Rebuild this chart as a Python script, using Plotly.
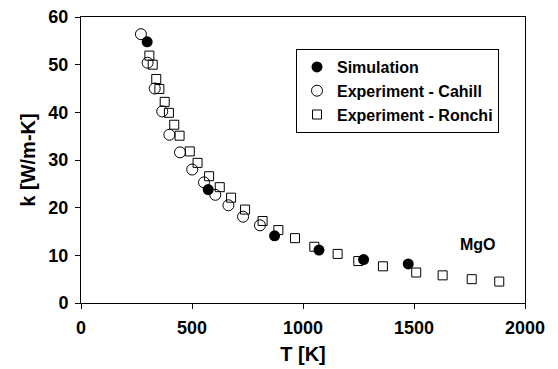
import plotly.graph_objects as go

# Simulation (filled circles)
sim_T = [298, 573, 872, 1072, 1273, 1474]
sim_k = [54.8, 23.8, 14.1, 11.1, 9.1, 8.2]

# Experiment - Cahill (open circles)
cahill_T = [270, 300, 332, 366, 398, 446, 501, 554, 605, 664, 730, 806]
cahill_k = [56.4, 50.4, 45.0, 40.2, 35.3, 31.6, 28.0, 25.3, 22.7, 20.5, 18.1, 16.3]

# Experiment - Ronchi (open squares)
ronchi_T = [308, 323, 339, 353, 377, 396, 420, 444, 490, 525, 577, 625, 676, 739,
            818, 889, 964, 1051, 1156, 1249, 1360, 1510, 1629, 1760, 1884]
ronchi_k = [51.9, 50.0, 47.0, 44.9, 42.2, 39.9, 37.4, 35.1, 31.8, 29.4, 26.6, 24.3, 22.1, 19.6,
            17.2, 15.3, 13.6, 11.8, 10.3, 8.8, 7.7, 6.4, 5.8, 5.0, 4.5]

x_ticks = [0, 500, 1000, 1500, 2000]
y_ticks = [0, 10, 20, 30, 40, 50, 60]

FONT = "Liberation Sans, Arial, Helvetica, sans-serif"

fig = go.Figure()
fig.add_trace(go.Scatter(
    x=ronchi_T, y=ronchi_k, mode="markers", name="Experiment - Ronchi",
    legendgroup="c", legendrank=3,
    marker=dict(symbol="square-open", size=9, color="black", line=dict(width=1))))
fig.add_trace(go.Scatter(
    x=cahill_T, y=cahill_k, mode="markers", name="Experiment - Cahill",
    legendgroup="b", legendrank=2,
    marker=dict(symbol="circle-open", size=11, color="black", line=dict(width=1))))
fig.add_trace(go.Scatter(
    x=sim_T, y=sim_k, mode="markers", name="Simulation",
    legendgroup="a", legendrank=1,
    marker=dict(symbol="circle", size=11, color="black", line=dict(width=0))))

fig.add_annotation(x=1787, y=12.3, text="MgO", showarrow=False,
                   font=dict(size=16, family=FONT, color="black", weight="bold"))

fig.update_layout(
    width=558, height=369,
    margin=dict(l=81, r=33, t=17, b=66, autoexpand=False),
    paper_bgcolor="white", plot_bgcolor="white",
    font=dict(family=FONT, size=18, color="black", weight="bold"),
    showlegend=True,
    legend=dict(x=(499 - 81) / 444, y=(303 - 49) / 286, xanchor="right", yanchor="top",
                bgcolor="white", bordercolor="black", borderwidth=1,
                tracegroupgap=9, font=dict(size=16, family=FONT, weight="bold"),
                traceorder="normal"),
    xaxis=dict(range=[0, 2000], tickvals=x_ticks, showgrid=False, zeroline=False,
               showline=True, linecolor="black", linewidth=1, mirror=True,
               ticks="outside", ticklen=5, tickcolor="black", ticklabelstandoff=3,
               automargin=False,
               title=dict(text="T [K]", font=dict(size=20), standoff=10)),
    yaxis=dict(range=[0, 60], tickvals=y_ticks, showgrid=False, zeroline=False,
               showline=True, linecolor="black", linewidth=1, mirror=True,
               ticks="outside", ticklen=5, tickcolor="black", ticklabelstandoff=3,
               automargin=False,
               title=dict(text="k [W/m-K]", font=dict(size=20), standoff=7)),
)

fig.write_html("out.html")
